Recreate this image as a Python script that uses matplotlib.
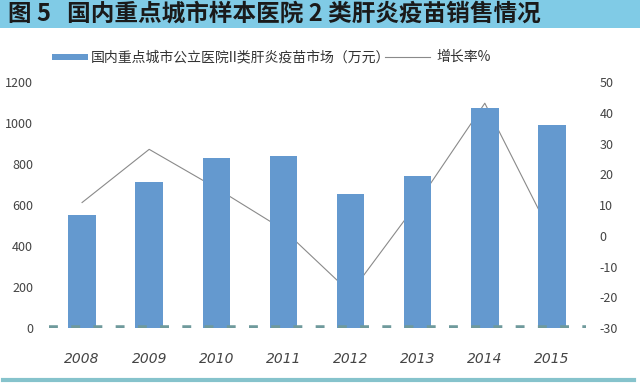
import matplotlib.pyplot as plt
from matplotlib.patches import Rectangle
from matplotlib.lines import Line2D

plt.rcParams["font.family"] = ["Noto Sans CJK SC", "DejaVu Sans"]
plt.rcParams["axes.unicode_minus"] = False

years = ["2008", "2009", "2010", "2011", "2012", "2013", "2014", "2015"]
market = [553, 710, 828, 837, 656, 740, 1073, 989]
growth = [10.8, 28.1, 15.5, 2.0, -18.6, 10.8, 43.1, 0.0]

title = "图 5   国内重点城市样本医院 2 类肝炎疫苗销售情况"
bar_label = "国内重点城市公立医院II类肝炎疫苗市场（万元）"
line_label = "增长率%"

fig = plt.figure(figsize=(6.4, 3.89), dpi=100)
fig.patch.set_facecolor("white")

# title band
fig.patches.append(Rectangle((0, 1 - 28 / 389), 1, 28 / 389, transform=fig.transFigure,
                             facecolor="#80cbe6", edgecolor="none"))
fig.text(0.012, 1 - 14 / 389, title, fontsize=17, fontweight="bold", color="#1a1a1a",
         va="center", ha="left")

# bottom rule
fig.lines.append(Line2D([0.005, 0.99], [1 - 380 / 389] * 2, transform=fig.transFigure,
                        color="#86c3cc", lw=3))

ax = fig.add_axes([48.5 / 640, 1 - 328 / 389, 537 / 640, 246 / 389])
ax2 = ax.twinx()
ax.set_zorder(ax2.get_zorder() + 1)
ax.patch.set_visible(False)

x = list(range(len(years)))
ax.bar(x, market, width=0.41, color="#6499cf", zorder=2)
ax2.plot(x, growth, color="#8a8a8a", lw=0.8)

ax.axhline(0, color="#6f9a9c", lw=4, dashes=(1.6, 2.4), zorder=3)

ax.set_xlim(-0.5, 7.5)
ax.set_ylim(0, 1200)
ax2.set_ylim(-30, 50)
ax.set_yticks(range(0, 1201, 200))
ax2.set_yticks(range(-30, 51, 10))
ax.set_xticks(x)
ax.set_xticklabels(years, fontstyle="italic", fontfamily="DejaVu Sans")

for a in (ax, ax2):
    for s in a.spines.values():
        s.set_visible(False)
    a.tick_params(length=0, labelsize=9, labelcolor="#444444")
ax.tick_params(axis="y", pad=11)
ax2.tick_params(axis="y", pad=10)
ax.tick_params(axis="x", pad=17, labelsize=10)

# legend
fig.patches.append(Rectangle((52 / 640, 1 - 60 / 389), 36 / 640, 6 / 389,
                             transform=fig.transFigure, facecolor="#6499cf", edgecolor="none"))
fig.text(91 / 640, 1 - 57 / 389, bar_label, fontsize=10, color="#333333", va="center")
fig.lines.append(Line2D([385 / 640, 430 / 640], [1 - 57 / 389] * 2, transform=fig.transFigure,
                        color="#8a8a8a", lw=0.8))
fig.text(436 / 640, 1 - 57 / 389, line_label, fontsize=10, color="#333333", va="center")

fig.savefig("out.png", dpi=100)
plt.close(fig)
